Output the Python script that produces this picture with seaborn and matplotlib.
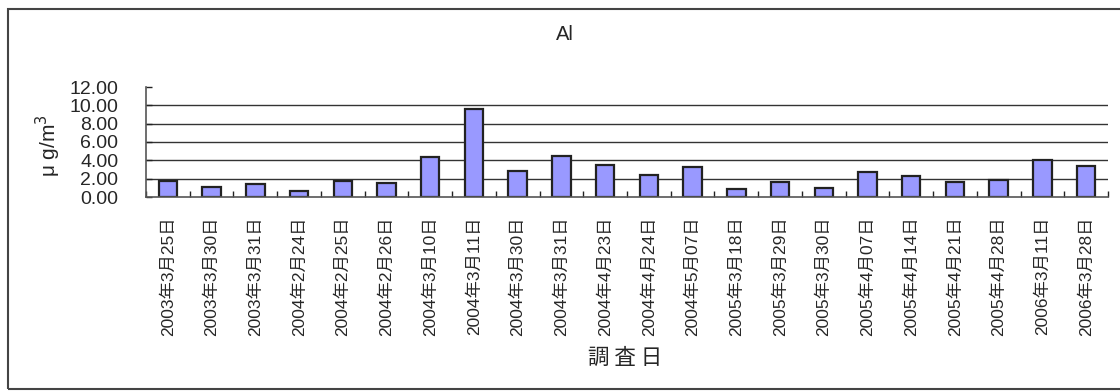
import matplotlib
matplotlib.use("Agg")
import matplotlib.pyplot as plt
import matplotlib.patches as mpatches
from matplotlib.ticker import FixedLocator, FormatStrFormatter
import seaborn as sns
import pandas as pd

# Sampling dates and Al concentrations (µg/m³)
dates = [
    "2003年3月25日", "2003年3月30日", "2003年3月31日", "2004年2月24日",
    "2004年2月25日", "2004年2月26日", "2004年3月10日", "2004年3月11日",
    "2004年3月30日", "2004年3月31日", "2004年4月23日", "2004年4月24日",
    "2004年5月07日", "2005年3月18日", "2005年3月29日", "2005年3月30日",
    "2005年4月07日", "2005年4月14日", "2005年4月21日", "2005年4月28日",
    "2006年3月11日", "2006年3月28日",
]
al_values = [
    1.75, 1.06, 1.42, 0.62, 1.75, 1.49, 4.40, 9.62, 2.88, 4.44, 3.50,
    2.37, 3.31, 0.84, 1.60, 1.02, 2.77, 2.30, 1.60, 1.86, 4.00, 3.35,
]
y_ticks = [0, 2, 4, 6, 8, 10, 12]

sns.set_theme(style="white")
plt.rcParams["font.family"] = ["Liberation Sans", "Noto Sans CJK JP", "DejaVu Sans"]

df = pd.DataFrame({"date": dates, "al": al_values})

fig = plt.figure(figsize=(11.2, 3.91), dpi=100)
ax = fig.add_axes([146 / 1120, 1 - 197 / 391, (1108 - 146) / 1120, (197 - 87) / 391])

# Horizontal gridlines (none at the top value)
for v in y_ticks[1:-1]:
    ax.axhline(v, color="#333333", linewidth=1.0, zorder=0)

sns.barplot(data=df, x="date", y="al", color="#9999FF", saturation=1,
            edgecolor="#222222", linewidth=1.6, width=0.42, ax=ax, zorder=2)

n = len(dates)
ax.set_xlim(-0.5, n - 0.5)
ax.set_ylim(0, 12)

ax.yaxis.set_major_locator(FixedLocator(y_ticks))
ax.yaxis.set_major_formatter(FormatStrFormatter("%.2f"))
ax.tick_params(axis="y", direction="in", length=4, width=1, color="#222222",
               labelsize=14, pad=20, left=True)
for t in ax.get_yticklabels():
    t.set_family(["Liberation Sans"])

# category boundary ticks on the x axis
ax.xaxis.set_minor_locator(FixedLocator([i - 0.5 for i in range(n + 1)]))
ax.tick_params(axis="x", which="major", length=0, pad=14)
ax.tick_params(axis="x", which="minor", direction="in", length=4, width=1,
               color="#222222", bottom=True)
ax.set_xticks(range(n))
ax.set_xticklabels(dates, rotation=90, fontsize=12.5, va="top", ha="center",
                   family=["Liberation Sans", "Noto Sans CJK JP"])

for side in ("top", "right"):
    ax.spines[side].set_visible(False)
for side in ("left", "bottom"):
    ax.spines[side].set_color("#555555")
    ax.spines[side].set_linewidth(1.2)

ax.set_xlabel("")
ax.set_ylabel("")
ax.grid(False)

fig.text(565 / 1120, 1 - 34 / 391, "Al", ha="center", va="center", fontsize=14.5,
         family=["Liberation Sans"])
fig.text(48 / 1120, 1 - 146 / 391, "μ g/m$^3$", ha="center", va="center",
         rotation=90, fontsize=15, family=["Liberation Sans"])
fig.text(625 / 1120, 1 - 358 / 391, "調 査 日", ha="center", va="center", fontsize=15.5,
         family=["Noto Sans CJK JP"])

# outer chart frame (its right side runs past the canvas edge)
frame = mpatches.Rectangle((8 / 1120, 2 / 391), (1130 - 8) / 1120, (389 - 9) / 391,
                           transform=fig.transFigure, fill=False,
                           edgecolor="#444444", linewidth=1.5)
fig.patches.append(frame)

fig.savefig("out.png", dpi=100, facecolor="white")
